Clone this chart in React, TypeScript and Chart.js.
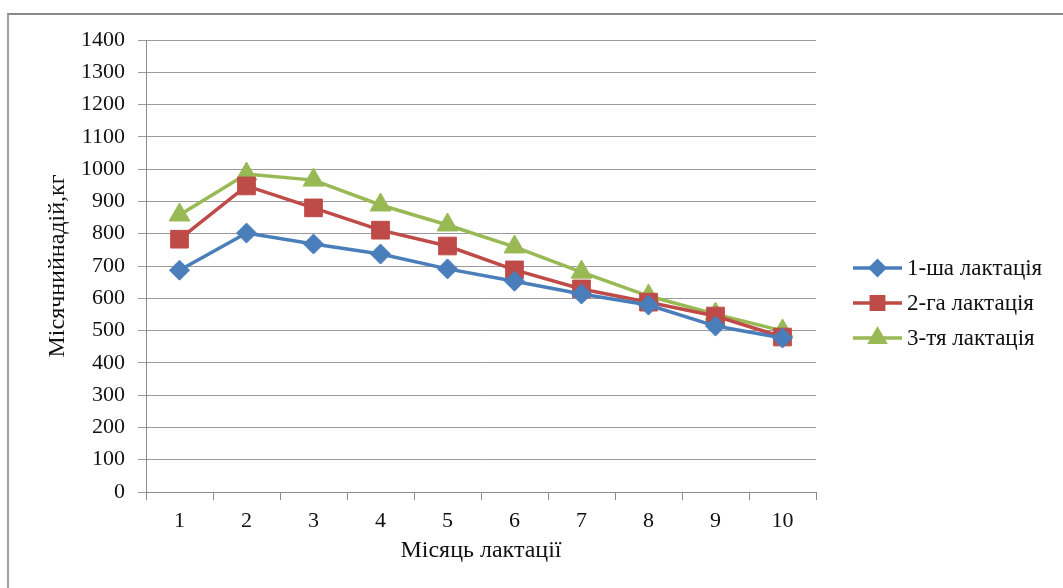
import React, { useEffect, useRef } from 'react';
import { Chart, registerables } from 'chart.js';
import { drawPoint } from 'chart.js/helpers';

Chart.register(...registerables);

const months = ['1', '2', '3', '4', '5', '6', '7', '8', '9', '10'];
const lact1 = [687, 802, 768, 737, 691, 653, 613, 579, 514, 477];
const lact2 = [783, 948, 880, 811, 762, 688, 629, 588, 545, 480];
const lact3 = [858, 985, 966, 889, 827, 759, 681, 607, 551, 499];
const seriesNames = ['1-ша лактація', '2-га лактація', '3-тя лактація'];
const yAxisTitle = 'Місячнийнадій,кг';
const xAxisTitle = 'Місяць лактації';
const yMin = 0;
const yMax = 1400;
const yStep = 100;

const FONT = "'Liberation Serif', 'DejaVu Serif', serif";
const colors = ['#4A7EBB', '#BE4B48', '#98B954'];
const styles = ['rectRot', 'rect', 'triangle'];
const radii = [10, 12.5, 12];

const legendPlugin = {
  id: 'sideLegend',
  afterDraw(chart: any) {
    const ctx = chart.ctx;
    const x0 = 853;
    const x1 = 902;
    const ys = [268, 303, 338];
    ctx.save();
    chart.data.datasets.forEach((ds: any, i: number) => {
      const y = ys[i];
      ctx.strokeStyle = ds.borderColor;
      ctx.lineWidth = 3.5;
      ctx.beginPath();
      ctx.moveTo(x0, y);
      ctx.lineTo(x1, y);
      ctx.stroke();
      ctx.fillStyle = ds.pointBackgroundColor;
      ctx.strokeStyle = ds.pointBorderColor;
      drawPoint(ctx, { pointStyle: ds.pointStyle, radius: ds.pointRadius * 0.7, rotation: 0, borderWidth: 1 }, (x0 + x1) / 2, y);
      ctx.fillStyle = '#111';
      ctx.font = `23px ${FONT}`;
      ctx.textBaseline = 'middle';
      ctx.textAlign = 'left';
      ctx.fillText(ds.label, 907, y + 1);
    });
    ctx.restore();
  },
};

export default function App() {
  const ref = useRef<HTMLCanvasElement | null>(null);

  useEffect(() => {
    document.body.style.margin = '0';
    const datasets = [lact1, lact2, lact3].map((d, i) => ({
      label: seriesNames[i],
      data: d,
      borderColor: colors[i],
      backgroundColor: colors[i],
      pointBackgroundColor: colors[i],
      pointBorderColor: colors[i],
      pointStyle: styles[i],
      pointRadius: radii[i],
      pointBorderWidth: 1,
      borderWidth: 3.5,
      tension: 0,
    }));
    const chart = new Chart(ref.current as HTMLCanvasElement, {
      type: 'line',
      data: { labels: months, datasets },
      options: {
        animation: false,
        responsive: false,
        maintainAspectRatio: false,
        layout: { padding: { top: 40, right: 247, bottom: 0, left: 0 } },
        plugins: { legend: { display: false }, tooltip: { enabled: false } },
        scales: {
          x: {
            offset: true,
            grid: { offset: true, drawOnChartArea: false, drawTicks: true, tickLength: 8, color: '#8c8c8c' },
            border: { color: '#8c8c8c', width: 1 },
            ticks: { color: '#111', font: { family: FONT, size: 22 }, padding: 8, maxRotation: 0 },
            title: { display: true, text: xAxisTitle, color: '#111', font: { family: FONT, size: 24 }, padding: { top: 0, bottom: 23 } },
            afterFit: (s: any) => { s.height = 96; },
          },
          y: {
            min: yMin,
            max: yMax,
            ticks: { stepSize: yStep, color: '#111', font: { family: FONT, size: 22 }, padding: 13, callback: (v: any) => String(v) },
            grid: { color: '#9a9a9a', tickLength: 8, drawTicks: true },
            border: { color: '#8c8c8c', width: 1 },
            title: { display: true, text: yAxisTitle, color: '#111', font: { family: FONT, size: 24 }, padding: { top: 43, bottom: 0 } },
            afterFit: (s: any) => { s.width = 146; },
          },
        },
      },
      plugins: [legendPlugin],
    });
    return () => chart.destroy();
  }, []);

  return (
    <div style={{ position: 'relative', width: 1063, height: 588, overflow: 'hidden', background: '#fff' }}>
      <div style={{ position: 'absolute', left: 7, top: 13, width: 1200, height: 800, borderTop: '2px solid #8a8a8a', borderLeft: '2px solid #a0a0a0' }} />
      <canvas ref={ref} width={1063} height={588} style={{ position: 'absolute', left: 0, top: 0 }} />
    </div>
  );
}
